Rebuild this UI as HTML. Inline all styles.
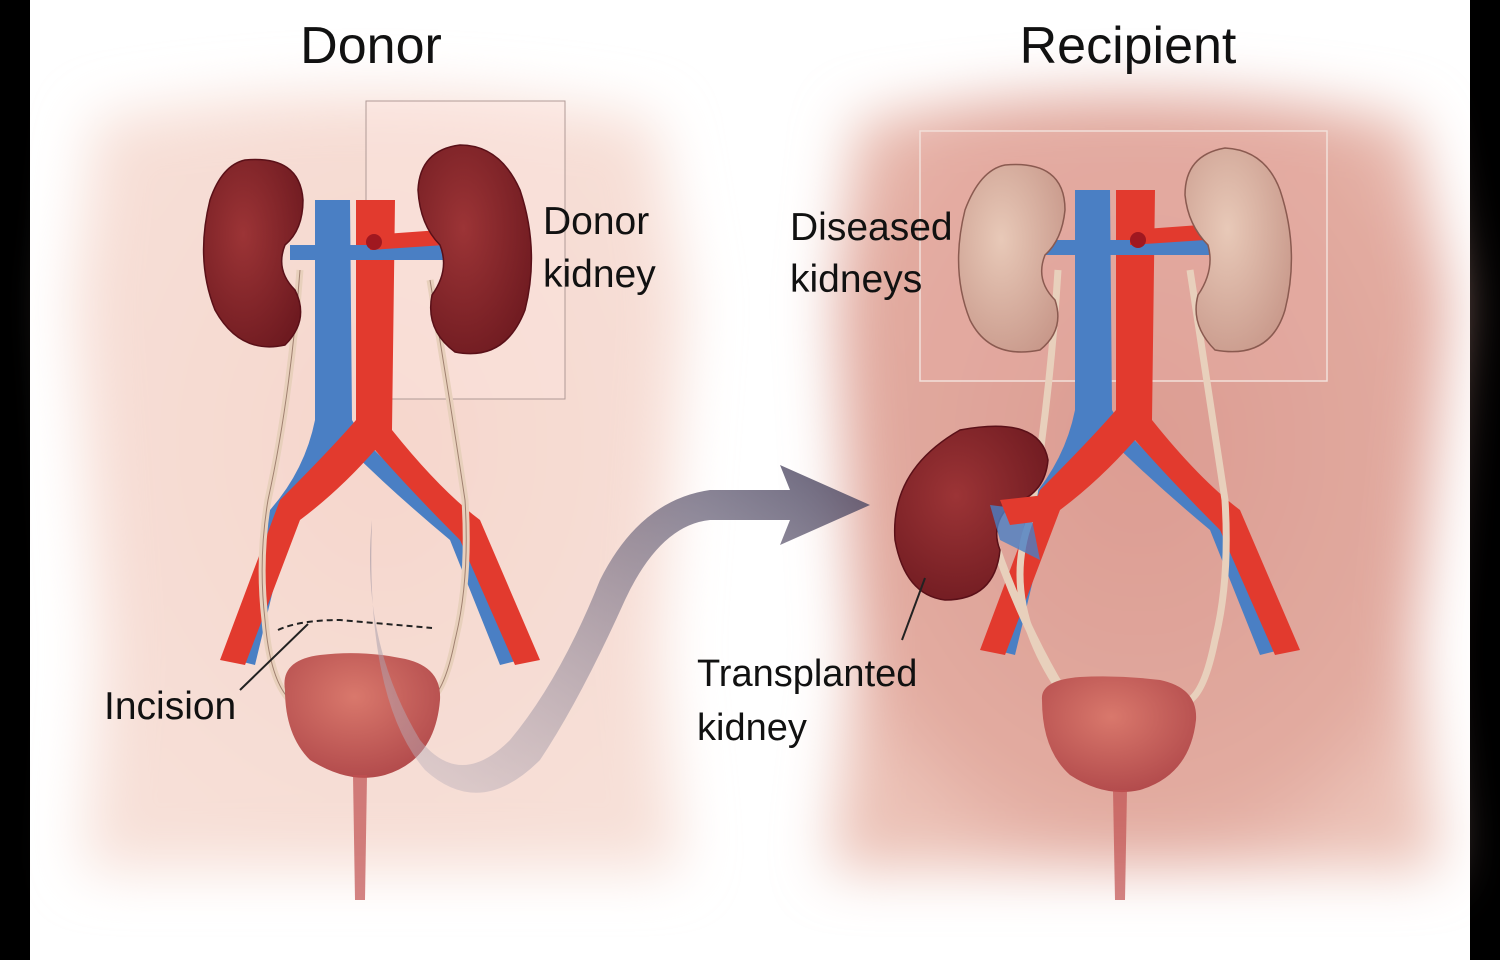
<!DOCTYPE html>
<html><head><style>
html,body{margin:0;padding:0;background:#000;}
.wrap{position:relative;width:1500px;height:960px;overflow:hidden;background:#000;}
svg{position:absolute;left:0;top:0;}
text{font-family:"Liberation Sans Narrow","Liberation Sans",sans-serif;fill:#111;}
</style></head><body><div class="wrap">
<svg width="1500" height="960" viewBox="0 0 1500 960">
<defs>
<filter id="b" x="-20%" y="-20%" width="140%" height="140%"><feGaussianBlur stdDeviation="28"/></filter>
<radialGradient id="kid" cx="0.4" cy="0.4" r="0.7"><stop offset="0" stop-color="#9c3436"/><stop offset="1" stop-color="#6e1a20"/></radialGradient>
<radialGradient id="dis" cx="0.4" cy="0.4" r="0.7"><stop offset="0" stop-color="#e8c9b8"/><stop offset="1" stop-color="#c8988a"/></radialGradient>
<radialGradient id="bl" cx="0.45" cy="0.35" r="0.7"><stop offset="0" stop-color="#d9786c"/><stop offset="1" stop-color="#b0484a"/></radialGradient>
<radialGradient id="rt" cx="0.5" cy="0.45" r="0.6"><stop offset="0" stop-color="#dc9c92"/><stop offset="0.8" stop-color="#e2aba0"/><stop offset="1" stop-color="#ecc3b8"/></radialGradient>
<radialGradient id="lt" cx="0.5" cy="0.45" r="0.6"><stop offset="0" stop-color="#f6d6cc"/><stop offset="1" stop-color="#f7e0d8"/></radialGradient>
<linearGradient id="arr" x1="0" y1="1" x2="1" y2="0"><stop offset="0" stop-color="#c8bcc4" stop-opacity="0.5"/><stop offset="1" stop-color="#4a4560"/></linearGradient>
</defs>
<rect x="30" y="0" width="1440" height="960" fill="#fff"/>
<!-- torsos -->
<path d="M95 120 Q370 70 655 120 L685 300 L660 650 L680 870 L85 870 L100 650 L75 300 Z" fill="url(#lt)" filter="url(#b)"/>
<path d="M855 120 Q1130 70 1415 120 L1450 300 L1415 650 L1440 870 L830 870 L855 650 L835 300 Z" fill="url(#rt)" filter="url(#b)"/>
<rect x="366" y="101" width="199" height="298" fill="#fbe4de" fill-opacity="0.5" stroke="#b09a96" stroke-width="1"/>
<rect x="920" y="131" width="407" height="250" fill="#e8b0a6" fill-opacity="0.35" stroke="#f2e0da" stroke-width="1.5"/>

<g>
<path d="M315 200 L350 200 L352 420 Q380 470 470 520 L520 660 L500 665 L450 540 Q390 490 340 440 Q330 480 290 520 L255 665 L235 660 L270 510 Q305 470 315 420 Z" fill="#4a7fc4"/>
<path d="M356 200 L395 200 L392 430 Q440 490 480 520 L540 660 L515 665 L460 540 Q410 490 375 450 Q340 490 300 520 L245 665 L220 660 L280 500 Q330 450 356 420 Z" fill="#e23a2e"/>
<path d="M290 245 L450 245 L450 260 L290 260 Z" fill="#4a7fc4"/>
<path d="M370 235 L440 230 L445 245 L370 250 Z" fill="#e23a2e"/>
<circle cx="374" cy="242" r="8" fill="#a01820"/>
</g>
<path d="M300 270 Q290 400 268 500 Q258 560 265 620 Q270 680 290 700" fill="none" stroke="#e8d0bc" stroke-width="7"/>
<path d="M300 270 Q290 400 268 500 Q258 560 265 620 Q270 680 290 700" fill="none" stroke="#a08070" stroke-width="1"/>
<path d="M430 280 Q450 400 465 500 Q470 580 455 640 Q445 690 430 700" fill="none" stroke="#e8d0bc" stroke-width="7"/>
<path d="M430 280 Q450 400 465 500 Q470 580 455 640 Q445 690 430 700" fill="none" stroke="#a08070" stroke-width="1"/>
<path d="M245 160 Q300 155 303 200 Q303 230 285 245 Q275 270 295 290 Q310 320 285 345 Q240 355 215 310 Q195 260 210 200 Q222 165 245 160 Z" fill="url(#kid)" stroke="#5a1018" stroke-width="1.5"/>
<path d="M460 145 Q420 150 418 190 Q420 225 440 245 Q450 270 432 295 Q425 330 455 352 Q505 362 525 310 Q540 250 520 190 Q500 145 460 145 Z" fill="url(#kid)" stroke="#5a1018" stroke-width="1.5"/>
<path d="M285 690 Q280 660 320 655 Q360 650 400 658 Q442 665 440 700 Q435 760 385 775 Q350 785 310 760 Q285 735 285 690 Z" fill="url(#bl)"/>
<path d="M353 775 L367 775 L365 900 L355 900 Z" fill="#c05050" opacity="0.7"/>
<path d="M278 630 Q300 620 340 620 L432 628" fill="none" stroke="#222" stroke-width="2" stroke-dasharray="6,4"/>
<line x1="308" y1="624" x2="240" y2="690" stroke="#222" stroke-width="2"/>

<g>
<path d="M1075 190 L1110 190 L1112 410 Q1140 460 1230 510 L1280 650 L1260 655 L1210 530 Q1150 480 1100 430 Q1090 470 1050 510 L1015 655 L995 650 L1030 500 Q1065 460 1075 410 Z" fill="#4a7fc4"/>
<path d="M1116 190 L1155 190 L1152 420 Q1200 480 1240 510 L1300 650 L1275 655 L1220 530 Q1170 480 1135 440 Q1100 480 1060 510 L1005 655 L980 650 L1040 490 Q1090 440 1116 410 Z" fill="#e23a2e"/>
<path d="M1040 240 L1210 240 L1210 255 L1040 255 Z" fill="#4a7fc4"/>
<path d="M1130 230 L1200 225 L1205 240 L1130 245 Z" fill="#e23a2e"/>
<circle cx="1138" cy="240" r="8" fill="#a01820"/>
</g>
<path d="M1058 270 Q1050 400 1030 520 Q1000 600 1060 690" fill="none" stroke="#e8d0bc" stroke-width="7"/>
<path d="M1190 270 Q1210 400 1225 500 Q1230 580 1215 640 Q1205 690 1190 700" fill="none" stroke="#e8d0bc" stroke-width="7"/>
<path d="M990 530 Q1020 620 1062 690" fill="none" stroke="#e8d0bc" stroke-width="8"/>
<path d="M1005 165 Q1065 160 1065 210 Q1062 240 1045 255 Q1035 280 1055 300 Q1065 330 1040 350 Q990 360 970 320 Q950 270 965 210 Q980 170 1005 165 Z" fill="url(#dis)" stroke="#8a5a50" stroke-width="1.5"/>
<path d="M1225 148 Q1185 155 1185 195 Q1188 225 1208 245 Q1215 270 1198 295 Q1190 325 1215 350 Q1270 360 1285 310 Q1300 250 1280 190 Q1265 150 1225 148 Z" fill="url(#dis)" stroke="#8a5a50" stroke-width="1.5"/>
<path d="M960 430 Q1040 415 1048 460 Q1045 495 1010 505 Q990 525 1000 550 Q995 600 945 600 Q905 595 895 540 Q890 470 960 430 Z" fill="url(#kid)" stroke="#5a1018" stroke-width="1.5"/>
<path d="M990 505 L1030 510 L1040 560 L1000 540 Z" fill="#4a7fc4" opacity="0.8"/>
<path d="M1000 500 L1045 495 L1050 520 L1010 525 Z" fill="#e23a2e"/>
<path d="M1042 700 Q1040 680 1080 677 Q1120 675 1160 680 Q1198 688 1196 720 Q1190 775 1140 790 Q1105 798 1070 775 Q1042 750 1042 700 Z" fill="url(#bl)"/>
<path d="M1113 790 L1127 790 L1125 900 L1115 900 Z" fill="#c05050" opacity="0.7"/>
<line x1="925" y1="578" x2="902" y2="640" stroke="#222" stroke-width="2"/>

<path d="M372 520 Q360 640 420 740 Q460 790 510 740 Q560 680 600 580 Q640 500 710 490 L790 490 L780 465 L870 505 L780 545 L790 520 L710 520 Q660 525 625 600 Q580 700 540 760 Q480 820 425 770 Q365 700 372 520 Z" fill="url(#arr)" opacity="0.85"/>

<text x="371" y="63" font-size="52" text-anchor="middle">Donor</text>
<text x="1128" y="63" font-size="52" text-anchor="middle">Recipient</text>
<text x="543" y="234" font-size="39">Donor</text>
<text x="543" y="287" font-size="39">kidney</text>
<text x="790" y="240" font-size="39">Diseased</text>
<text x="790" y="292" font-size="39">kidneys</text>
<text x="104" y="719" font-size="39">Incision</text>
<text x="697" y="686" font-size="38">Transplanted</text>
<text x="697" y="740" font-size="38">kidney</text>
</svg>
</div></body></html>
